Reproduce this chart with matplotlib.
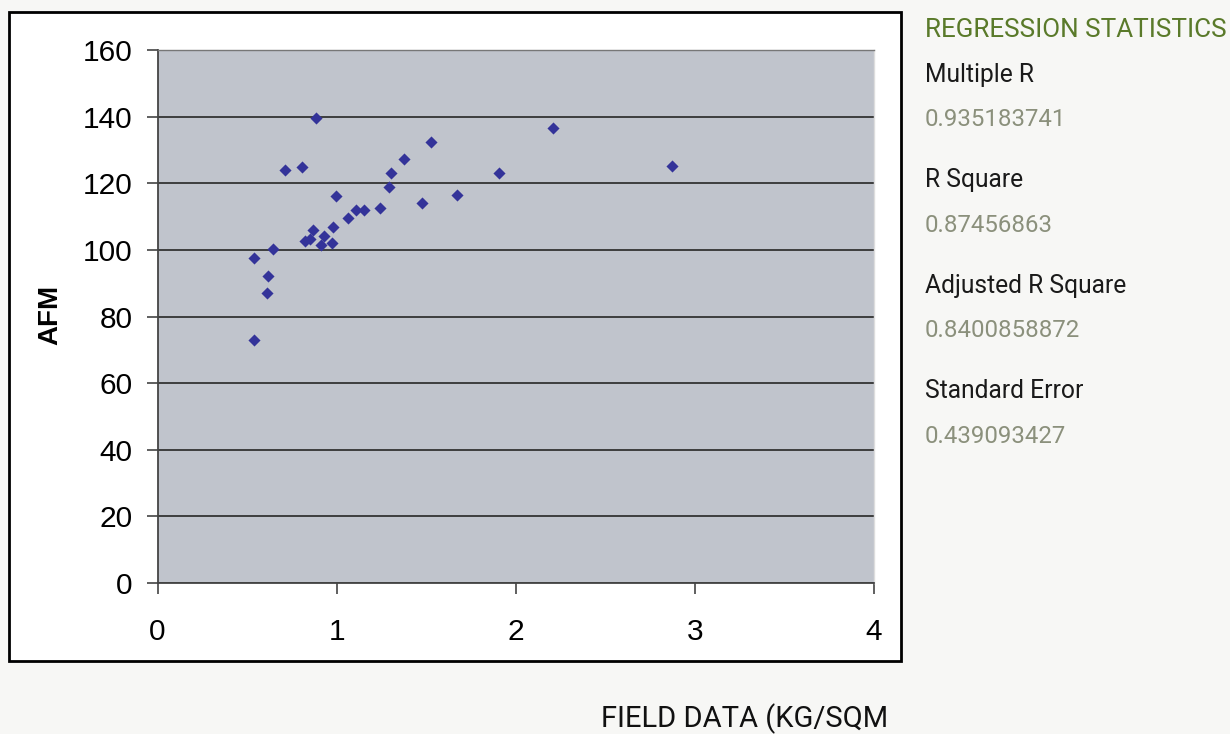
import matplotlib.pyplot as plt
from matplotlib.patches import Rectangle

# field data (kg/sqm) vs AFM
field_data = [0.884, 0.712, 0.807, 1.528, 1.377, 1.303, 1.295, 0.999, 1.671, 1.479,
              1.241, 1.107, 1.155, 1.064, 0.979, 0.869, 0.928, 0.850, 0.826, 0.915,
              0.975, 0.645, 0.537, 0.617, 0.610, 0.537, 2.210, 1.908, 2.874]
afm = [139.6, 124.0, 125.0, 132.3, 127.2, 123.2, 118.8, 116.2, 116.6, 114.0,
       112.6, 111.9, 111.9, 109.7, 106.8, 106.1, 104.3, 103.4, 102.7, 101.6,
       102.0, 100.2, 97.7, 92.2, 87.1, 72.9, 136.6, 123.1, 125.2]

x_ticks = [0, 1, 2, 3, 4]
y_ticks = [0, 20, 40, 60, 80, 100, 120, 140, 160]

stat_names = ['Multiple R', 'R Square', 'Adjusted R Square', 'Standard Error']
stat_values = ['0.935183741', '0.87456863', '0.8400858872', '0.439093427']

narrow = ['Liberation Sans Narrow', 'Roboto', 'DejaVu Sans']
arial = ['Liberation Sans', 'DejaVu Sans']

fig = plt.figure(figsize=(12.3, 7.34), dpi=100, facecolor='#f7f7f5')

# white chart box with black frame (behind the axes)
fig.patches.append(Rectangle((9 / 1230, 1 - 661 / 734), 892 / 1230, 649 / 734,
                             transform=fig.transFigure, facecolor='white',
                             edgecolor='black', linewidth=2, zorder=-5))

ax = fig.add_axes([157.5 / 1230, 1 - 583 / 734, 716.5 / 1230, 533 / 734])
ax.set_zorder(2)
ax.set_facecolor('#c0c4cc')
ax.scatter(field_data, afm, marker='D', s=38, color='#333399', zorder=3, linewidths=0)

ax.set_xlim(0, 4)
ax.set_ylim(0, 160)
ax.set_xticks(x_ticks)
ax.set_yticks(y_ticks)
ax.yaxis.grid(True, color='#333333', linewidth=1.3)
ax.set_axisbelow(True)

for side in ['left', 'bottom']:
    ax.spines[side].set_color('#444444')
    ax.spines[side].set_linewidth(1.3)
ax.spines['top'].set_color('#777777')
ax.spines['right'].set_color('#dddddd')
ax.spines['top'].set_linewidth(1)
ax.spines['right'].set_linewidth(1)

ax.tick_params(direction='out', length=8, width=1.2, color='#444444', labelsize=21.5,
               labelcolor='black')
ax.tick_params(axis='y', pad=10)
ax.tick_params(axis='x', pad=17)
for lbl in ax.get_xticklabels() + ax.get_yticklabels():
    lbl.set_family(arial)

fig.text(50 / 1230, 1 - 315 / 734, 'AFM', rotation=90, ha='center', va='center',
         fontsize=20, fontweight='bold', family=arial)
fig.text(745 / 1230, 1 - 719 / 734, 'FIELD DATA (KG/SQM', ha='center', va='center',
         fontsize=21, family=narrow, color='#111111')

# regression statistics panel
fig.text(925 / 1230, 1 - 30 / 734, 'REGRESSION STATISTICS', ha='left', va='center',
         fontsize=18.7, family=narrow, color='#5a7a2a')
for i, (name, val) in enumerate(zip(stat_names, stat_values)):
    y0 = 75 + i * 105.5
    fig.text(925 / 1230, 1 - y0 / 734, name, ha='left', va='center',
             fontsize=17.7, family=narrow, color='#1a1a1a')
    fig.text(925 / 1230, 1 - (y0 + 45) / 734, val, ha='left', va='center',
             fontsize=17.3, family=narrow, color='#8b907c')

fig.savefig('out.png', dpi=100, facecolor=fig.get_facecolor())
